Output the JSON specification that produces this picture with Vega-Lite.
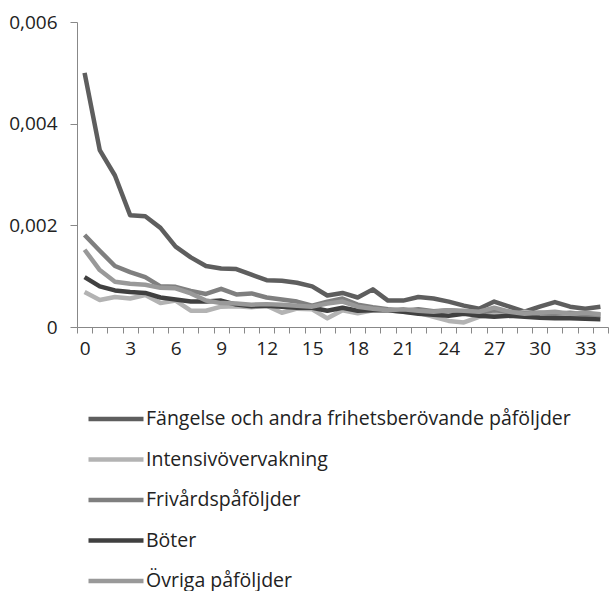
{
  "$schema": "https://vega.github.io/schema/vega-lite/v6.json",
  "width": 531,
  "height": 305,
  "padding": {"left": 5, "top": 13, "right": 0, "bottom": 0},
  "config": {
    "view": {"stroke": null},
    "font": "Open Sans",
    "axis": {"labelFont": "Open Sans", "labelFontSize": 19, "labelColor": "#222", "grid": false, "domainColor": "#888", "tickColor": "#888", "title": null},
    "legend": {"labelFont": "Open Sans", "labelFontSize": 19.5, "labelColor": "#222"}
  },
  "data": {"values": [
    {"t":0,"s":"Fängelse och andra frihetsberövande påföljder","v":0.0050},
    {"t":1,"s":"Fängelse och andra frihetsberövande påföljder","v":0.00348},
    {"t":2,"s":"Fängelse och andra frihetsberövande påföljder","v":0.00298},
    {"t":3,"s":"Fängelse och andra frihetsberövande påföljder","v":0.0022},
    {"t":4,"s":"Fängelse och andra frihetsberövande påföljder","v":0.00218},
    {"t":5,"s":"Fängelse och andra frihetsberövande påföljder","v":0.00195},
    {"t":6,"s":"Fängelse och andra frihetsberövande påföljder","v":0.00158},
    {"t":7,"s":"Fängelse och andra frihetsberövande påföljder","v":0.00137},
    {"t":8,"s":"Fängelse och andra frihetsberövande påföljder","v":0.0012},
    {"t":9,"s":"Fängelse och andra frihetsberövande påföljder","v":0.00115},
    {"t":10,"s":"Fängelse och andra frihetsberövande påföljder","v":0.00114},
    {"t":11,"s":"Fängelse och andra frihetsberövande påföljder","v":0.00103},
    {"t":12,"s":"Fängelse och andra frihetsberövande påföljder","v":0.00092},
    {"t":13,"s":"Fängelse och andra frihetsberövande påföljder","v":0.00091},
    {"t":14,"s":"Fängelse och andra frihetsberövande påföljder","v":0.00087},
    {"t":15,"s":"Fängelse och andra frihetsberövande påföljder","v":0.0008},
    {"t":16,"s":"Fängelse och andra frihetsberövande påföljder","v":0.00062},
    {"t":17,"s":"Fängelse och andra frihetsberövande påföljder","v":0.00067},
    {"t":18,"s":"Fängelse och andra frihetsberövande påföljder","v":0.00058},
    {"t":19,"s":"Fängelse och andra frihetsberövande påföljder","v":0.00074},
    {"t":20,"s":"Fängelse och andra frihetsberövande påföljder","v":0.00052},
    {"t":21,"s":"Fängelse och andra frihetsberövande påföljder","v":0.00052},
    {"t":22,"s":"Fängelse och andra frihetsberövande påföljder","v":0.00059},
    {"t":23,"s":"Fängelse och andra frihetsberövande påföljder","v":0.00056},
    {"t":24,"s":"Fängelse och andra frihetsberövande påföljder","v":0.0005},
    {"t":25,"s":"Fängelse och andra frihetsberövande påföljder","v":0.00042},
    {"t":26,"s":"Fängelse och andra frihetsberövande påföljder","v":0.00036},
    {"t":27,"s":"Fängelse och andra frihetsberövande påföljder","v":0.0005},
    {"t":28,"s":"Fängelse och andra frihetsberövande påföljder","v":0.0004},
    {"t":29,"s":"Fängelse och andra frihetsberövande påföljder","v":0.0003},
    {"t":30,"s":"Fängelse och andra frihetsberövande påföljder","v":0.0004},
    {"t":31,"s":"Fängelse och andra frihetsberövande påföljder","v":0.00049},
    {"t":32,"s":"Fängelse och andra frihetsberövande påföljder","v":0.0004},
    {"t":33,"s":"Fängelse och andra frihetsberövande påföljder","v":0.00036},
    {"t":34,"s":"Fängelse och andra frihetsberövande påföljder","v":0.0004},
    {"t":0,"s":"Intensivövervakning","v":0.00069},
    {"t":1,"s":"Intensivövervakning","v":0.00053},
    {"t":2,"s":"Intensivövervakning","v":0.00059},
    {"t":3,"s":"Intensivövervakning","v":0.00056},
    {"t":4,"s":"Intensivövervakning","v":0.00063},
    {"t":5,"s":"Intensivövervakning","v":0.00047},
    {"t":6,"s":"Intensivövervakning","v":0.00052},
    {"t":7,"s":"Intensivövervakning","v":0.00032},
    {"t":8,"s":"Intensivövervakning","v":0.00032},
    {"t":9,"s":"Intensivövervakning","v":0.0004},
    {"t":10,"s":"Intensivövervakning","v":0.00041},
    {"t":11,"s":"Intensivövervakning","v":0.00039},
    {"t":12,"s":"Intensivövervakning","v":0.00042},
    {"t":13,"s":"Intensivövervakning","v":0.00028},
    {"t":14,"s":"Intensivövervakning","v":0.00036},
    {"t":15,"s":"Intensivövervakning","v":0.00035},
    {"t":16,"s":"Intensivövervakning","v":0.00017},
    {"t":17,"s":"Intensivövervakning","v":0.00033},
    {"t":18,"s":"Intensivövervakning","v":0.00027},
    {"t":19,"s":"Intensivövervakning","v":0.00033},
    {"t":20,"s":"Intensivövervakning","v":0.00033},
    {"t":21,"s":"Intensivövervakning","v":0.0003},
    {"t":22,"s":"Intensivövervakning","v":0.00028},
    {"t":23,"s":"Intensivövervakning","v":0.0002},
    {"t":24,"s":"Intensivövervakning","v":0.00012},
    {"t":25,"s":"Intensivövervakning","v":0.00009},
    {"t":26,"s":"Intensivövervakning","v":0.0002},
    {"t":27,"s":"Intensivövervakning","v":0.00025},
    {"t":28,"s":"Intensivövervakning","v":0.00022},
    {"t":29,"s":"Intensivövervakning","v":0.0003},
    {"t":30,"s":"Intensivövervakning","v":0.00025},
    {"t":31,"s":"Intensivövervakning","v":0.00022},
    {"t":32,"s":"Intensivövervakning","v":0.00025},
    {"t":33,"s":"Intensivövervakning","v":0.0002},
    {"t":34,"s":"Intensivövervakning","v":0.00022},
    {"t":0,"s":"Frivårdspåföljder","v":0.00181},
    {"t":1,"s":"Frivårdspåföljder","v":0.0015},
    {"t":2,"s":"Frivårdspåföljder","v":0.0012},
    {"t":3,"s":"Frivårdspåföljder","v":0.00108},
    {"t":4,"s":"Frivårdspåföljder","v":0.00098},
    {"t":5,"s":"Frivårdspåföljder","v":0.0008},
    {"t":6,"s":"Frivårdspåföljder","v":0.00079},
    {"t":7,"s":"Frivårdspåföljder","v":0.00071},
    {"t":8,"s":"Frivårdspåföljder","v":0.00065},
    {"t":9,"s":"Frivårdspåföljder","v":0.00075},
    {"t":10,"s":"Frivårdspåföljder","v":0.00064},
    {"t":11,"s":"Frivårdspåföljder","v":0.00066},
    {"t":12,"s":"Frivårdspåföljder","v":0.00058},
    {"t":13,"s":"Frivårdspåföljder","v":0.00054},
    {"t":14,"s":"Frivårdspåföljder","v":0.0005},
    {"t":15,"s":"Frivårdspåföljder","v":0.00042},
    {"t":16,"s":"Frivårdspåföljder","v":0.0005},
    {"t":17,"s":"Frivårdspåföljder","v":0.00056},
    {"t":18,"s":"Frivårdspåföljder","v":0.00044},
    {"t":19,"s":"Frivårdspåföljder","v":0.00039},
    {"t":20,"s":"Frivårdspåföljder","v":0.00035},
    {"t":21,"s":"Frivårdspåföljder","v":0.00032},
    {"t":22,"s":"Frivårdspåföljder","v":0.00035},
    {"t":23,"s":"Frivårdspåföljder","v":0.00031},
    {"t":24,"s":"Frivårdspåföljder","v":0.00033},
    {"t":25,"s":"Frivårdspåföljder","v":0.0003},
    {"t":26,"s":"Frivårdspåföljder","v":0.00028},
    {"t":27,"s":"Frivårdspåföljder","v":0.00033},
    {"t":28,"s":"Frivårdspåföljder","v":0.0003},
    {"t":29,"s":"Frivårdspåföljder","v":0.00027},
    {"t":30,"s":"Frivårdspåföljder","v":0.00028},
    {"t":31,"s":"Frivårdspåföljder","v":0.00026},
    {"t":32,"s":"Frivårdspåföljder","v":0.00028},
    {"t":33,"s":"Frivårdspåföljder","v":0.00025},
    {"t":34,"s":"Frivårdspåföljder","v":0.00024},
    {"t":0,"s":"Böter","v":0.00098},
    {"t":1,"s":"Böter","v":0.0008},
    {"t":2,"s":"Böter","v":0.00072},
    {"t":3,"s":"Böter","v":0.00069},
    {"t":4,"s":"Böter","v":0.00067},
    {"t":5,"s":"Böter","v":0.00058},
    {"t":6,"s":"Böter","v":0.00054},
    {"t":7,"s":"Böter","v":0.0005},
    {"t":8,"s":"Böter","v":0.0005},
    {"t":9,"s":"Böter","v":0.00052},
    {"t":10,"s":"Böter","v":0.00044},
    {"t":11,"s":"Böter","v":0.00041},
    {"t":12,"s":"Böter","v":0.00042},
    {"t":13,"s":"Böter","v":0.0004},
    {"t":14,"s":"Böter","v":0.00038},
    {"t":15,"s":"Böter","v":0.00038},
    {"t":16,"s":"Böter","v":0.00032},
    {"t":17,"s":"Böter","v":0.00038},
    {"t":18,"s":"Böter","v":0.00032},
    {"t":19,"s":"Böter","v":0.00033},
    {"t":20,"s":"Böter","v":0.00033},
    {"t":21,"s":"Böter","v":0.0003},
    {"t":22,"s":"Böter","v":0.00026},
    {"t":23,"s":"Böter","v":0.00024},
    {"t":24,"s":"Böter","v":0.00022},
    {"t":25,"s":"Böter","v":0.00026},
    {"t":26,"s":"Böter","v":0.00022},
    {"t":27,"s":"Böter","v":0.0002},
    {"t":28,"s":"Böter","v":0.00022},
    {"t":29,"s":"Böter","v":0.0002},
    {"t":30,"s":"Böter","v":0.00018},
    {"t":31,"s":"Böter","v":0.00017},
    {"t":32,"s":"Böter","v":0.00017},
    {"t":33,"s":"Böter","v":0.00016},
    {"t":34,"s":"Böter","v":0.00015},
    {"t":0,"s":"Övriga påföljder","v":0.00152},
    {"t":1,"s":"Övriga påföljder","v":0.00112},
    {"t":2,"s":"Övriga påföljder","v":0.00089},
    {"t":3,"s":"Övriga påföljder","v":0.00085},
    {"t":4,"s":"Övriga påföljder","v":0.00083},
    {"t":5,"s":"Övriga påföljder","v":0.00077},
    {"t":6,"s":"Övriga påföljder","v":0.00076},
    {"t":7,"s":"Övriga påföljder","v":0.00066},
    {"t":8,"s":"Övriga påföljder","v":0.00052},
    {"t":9,"s":"Övriga påföljder","v":0.00047},
    {"t":10,"s":"Övriga påföljder","v":0.00046},
    {"t":11,"s":"Övriga påföljder","v":0.00044},
    {"t":12,"s":"Övriga påföljder","v":0.00045},
    {"t":13,"s":"Övriga påföljder","v":0.00044},
    {"t":14,"s":"Övriga påföljder","v":0.00042},
    {"t":15,"s":"Övriga påföljder","v":0.0004},
    {"t":16,"s":"Övriga påföljder","v":0.00046},
    {"t":17,"s":"Övriga påföljder","v":0.0005},
    {"t":18,"s":"Övriga påföljder","v":0.0004},
    {"t":19,"s":"Övriga påföljder","v":0.00036},
    {"t":20,"s":"Övriga påföljder","v":0.00033},
    {"t":21,"s":"Övriga påföljder","v":0.00035},
    {"t":22,"s":"Övriga påföljder","v":0.00032},
    {"t":23,"s":"Övriga påföljder","v":0.0003},
    {"t":24,"s":"Övriga påföljder","v":0.00033},
    {"t":25,"s":"Övriga påföljder","v":0.00032},
    {"t":26,"s":"Övriga påföljder","v":0.0003},
    {"t":27,"s":"Övriga påföljder","v":0.00038},
    {"t":28,"s":"Övriga påföljder","v":0.0003},
    {"t":29,"s":"Övriga påföljder","v":0.00026},
    {"t":30,"s":"Övriga påföljder","v":0.00028},
    {"t":31,"s":"Övriga påföljder","v":0.0003},
    {"t":32,"s":"Övriga påföljder","v":0.00026},
    {"t":33,"s":"Övriga påföljder","v":0.00028},
    {"t":34,"s":"Övriga påföljder","v":0.00025}
  ]},
  "mark": {"type": "line", "strokeWidth": 4.5, "strokeJoin": "round"},
  "encoding": {
    "x": {
      "field": "t", "type": "ordinal", "sort": "ascending",
      "bandPosition": 0.5,
      "scale": {"type": "band", "paddingInner": 0, "paddingOuter": 0},
      "axis": {"labelAngle": 0, "tickBand": "extent", "tickSize": 6, "labelPadding": 6,
        "labelExpr": "datum.value % 3 == 0 ? datum.label : ''"}
    },
    "y": {
      "field": "v", "type": "quantitative",
      "scale": {"domain": [0, 0.006], "nice": false},
      "axis": {"values": [0, 0.002, 0.004, 0.006], "tickSize": 7, "labelPadding": 13,
        "minExtent": 72, "maxExtent": 72,
        "labelExpr": "datum.value == 0 ? '0' : replace(format(datum.value, '.3f'), '.', ',')"}
    },
    "color": {
      "field": "s", "type": "nominal",
      "scale": {
        "domain": ["Fängelse och andra frihetsberövande påföljder", "Intensivövervakning", "Frivårdspåföljder", "Böter", "Övriga påföljder"],
        "range": ["#5e5e5e", "#b3b3b3", "#7f7f7f", "#404040", "#999999"]
      },
      "legend": {
        "title": null, "orient": "none", "legendX": 9, "legendY": 367, "direction": "vertical",
        "symbolType": "M-1,0H1", "symbolSize": 3025, "symbolStrokeWidth": 4.5,
        "labelOffset": 0, "rowPadding": 0.5, "padding": 0, "labelLimit": 0
      }
    }
  }
}
